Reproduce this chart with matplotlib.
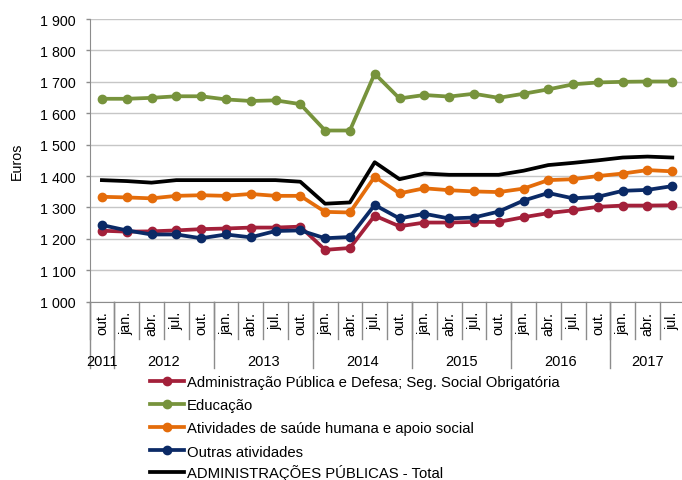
import matplotlib
matplotlib.use("Agg")
import matplotlib.pyplot as plt
from matplotlib.transforms import blended_transform_factory
from matplotlib.lines import Line2D

plt.rcParams['font.family'] = ['Liberation Sans', 'DejaVu Sans']

months = ["out.",
          "jan.", "abr.", "jul.", "out.",
          "jan.", "abr.", "jul.", "out.",
          "jan.", "abr.", "jul.", "out.",
          "jan.", "abr.", "jul.", "out.",
          "jan.", "abr.", "jul.", "out.",
          "jan.", "abr.", "jul."]
years = ["2011", "2012", "2013", "2014", "2015", "2016", "2017"]
year_counts = [1, 4, 4, 4, 4, 4, 3]

admin_publica = [1226, 1223, 1224, 1227, 1231, 1233, 1236, 1236, 1239, 1165, 1171, 1274,
                 1240, 1252, 1252, 1254, 1254, 1269, 1282, 1291, 1302, 1306, 1306, 1307]
educacao = [1646, 1646, 1649, 1654, 1654, 1644, 1639, 1641, 1629, 1545, 1545, 1726,
            1647, 1658, 1653, 1662, 1649, 1662, 1676, 1692, 1698, 1700, 1701, 1701]
saude = [1334, 1332, 1329, 1337, 1339, 1337, 1343, 1337, 1337, 1286, 1284, 1398,
         1345, 1361, 1355, 1351, 1349, 1360, 1387, 1390, 1400, 1408, 1419, 1415]
outras = [1244, 1227, 1214, 1214, 1202, 1214, 1205, 1225, 1227, 1202, 1206, 1308,
          1265, 1280, 1265, 1268, 1287, 1322, 1346, 1329, 1334, 1353, 1356, 1368]
total = [1387, 1384, 1379, 1387, 1387, 1387, 1387, 1387, 1382, 1312, 1316, 1444,
         1390, 1408, 1404, 1404, 1404, 1417, 1435, 1442, 1450, 1459, 1462, 1459]

series = [
    ("Administração Pública e Defesa; Seg. Social Obrigatória", admin_publica, "#A3203A", True),
    ("Educação", educacao, "#77933C", True),
    ("Atividades de saúde humana e apoio social", saude, "#E46C0A", True),
    ("Outras atividades", outras, "#0B2A66", True),
    ("ADMINISTRAÇÕES PÚBLICAS - Total", total, "#000000", False),
]

W, H = 682, 481
fig = plt.figure(figsize=(W / 100, H / 100), dpi=100)
ax_left, ax_right, ax_top, ax_bot = 89.5, 684.7, 20.0, 302.7
ax = fig.add_axes([ax_left / W, 1 - ax_bot / H, (ax_right - ax_left) / W, (ax_bot - ax_top) / H])

x = list(range(len(months)))
handles = []
for label, vals, color, marker in series:
    h, = ax.plot(x, vals, color=color, lw=2.7, marker='o' if marker else None,
                 markersize=6.0, solid_joinstyle='round', label=label, zorder=3)
    handles.append(h)

ax.set_xlim(-0.5, len(months) - 0.5)
ax.set_ylim(1000, 1900)
ax.set_yticks(range(1000, 1901, 100))
ax.set_yticklabels([f"{v // 1000} {v % 1000:03d}" for v in range(1000, 1901, 100)])
ax.yaxis.grid(True, color="#C6C6C6", lw=1.0)
ax.set_axisbelow(True)
for s in ['top', 'right']:
    ax.spines[s].set_visible(False)
ax.spines['left'].set_color("#8C8C8C")
ax.spines['bottom'].set_color("#8C8C8C")
ax.tick_params(axis='y', length=3, width=1, color="#8C8C8C", pad=7, labelsize=10.3)
ax.set_xticks(x)
ax.set_xticklabels(months, rotation=90, va='top', ha='center', fontsize=10.3)
ax.tick_params(axis='x', length=0, pad=6.5)

trans = blended_transform_factory(ax.transData, ax.transAxes)
axh = ax_bot - ax_top
month_sep = -37 / axh
year_sep = -66 / axh
for i in range(len(months) + 1):
    ax.add_line(Line2D([i - 0.5, i - 0.5], [0, month_sep], transform=trans,
                       color="#8C8C8C", lw=1, clip_on=False))
start = 0
for yr, cnt in zip(years, year_counts):
    ax.add_line(Line2D([start - 0.5, start - 0.5], [0, year_sep], transform=trans,
                       color="#8C8C8C", lw=1, clip_on=False))
    center = start + (cnt - 1) / 2
    ax.text(center, -59.5 / axh, yr, transform=trans, ha='center', va='center', fontsize=10.5)
    start += cnt

fig.text(17 / W, 1 - 161 / H, "Euros", rotation=90, ha='center', va='center', fontsize=10.3)

leg_kw = dict(frameon=False, prop={'size': 10.7}, handlelength=2.3, handletextpad=0.2,
              labelspacing=0.62, borderaxespad=0, borderpad=0, markerscale=1.0)
fig.legend(handles=handles[:4], loc='upper left', bbox_to_anchor=(150 / W, 1 - 376 / H), **leg_kw)
fig.legend(handles=handles[4:], loc='center left', bbox_to_anchor=(150 / W, 1 - 473 / H), **leg_kw)

fig.savefig("out.png", dpi=100)
